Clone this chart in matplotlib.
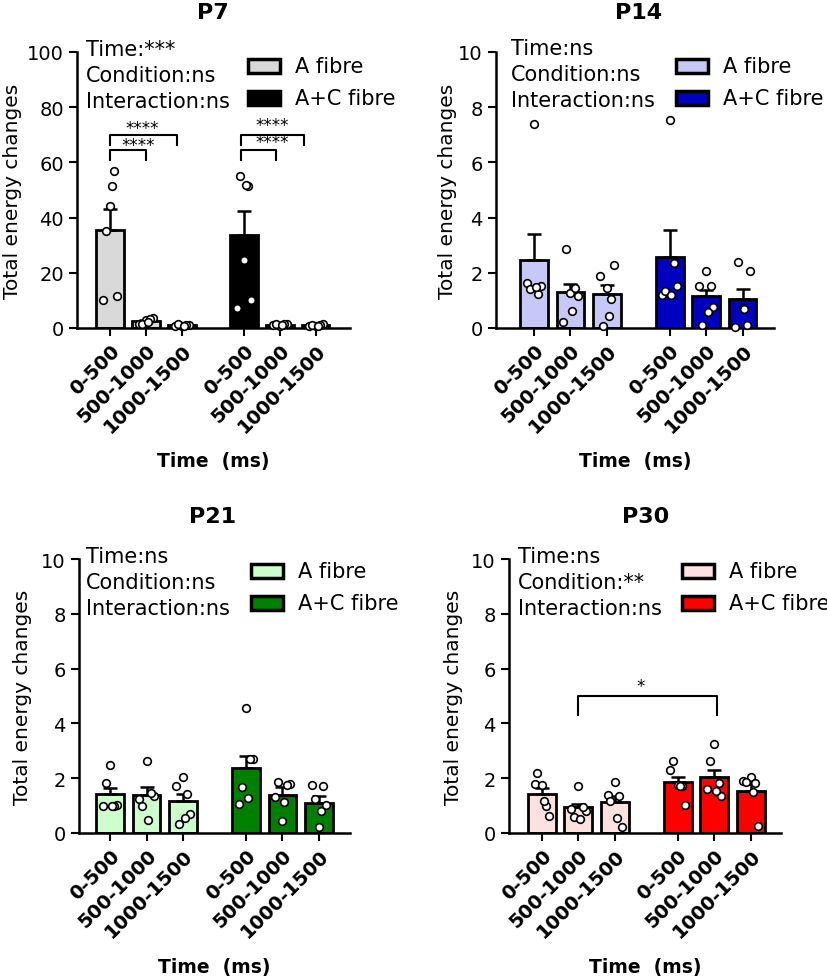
import matplotlib
matplotlib.use('Agg')
import matplotlib.pyplot as plt
from matplotlib.patches import Rectangle

plt.rcParams['font.family'] = 'DejaVu Sans'

W, H = 828, 978

# categories
time_bins = ['0-500', '500-1000', '1000-1500']
groups = ['A fibre', 'A+C fibre']
bar_x = [0, 1, 2, 3.72, 4.72, 5.72]

# P7
p7_a_mean = [35.4, 2.4, 1.0]
p7_a_sem = [7.6, 0.5, 0.2]
p7_ac_mean = [33.8, 1.2, 1.0]
p7_ac_sem = [8.6, 0.25, 0.2]
p7_a_pts = [[10.3, 11.5, 44.2, 35.0, 57.0, 51.3],
            [1.5, 3.5, 2.8, 1.6, 3.2, 2.0],
            [0.8, 1.2, 0.6, 1.3, 1.0, 0.9]]
p7_ac_pts = [[7.4, 10.3, 24.8, 55.0, 51.3, 51.9],
             [1.0, 1.5, 0.8, 1.3, 1.6, 1.2],
             [0.9, 1.3, 0.6, 1.2, 1.0, 0.8]]

# P14
p14_a_mean = [2.45, 1.30, 1.24]
p14_a_sem = [0.96, 0.31, 0.31]
p14_ac_mean = [2.57, 1.15, 1.06]
p14_ac_sem = [0.99, 0.24, 0.34]
p14_a_pts = [[1.63, 1.52, 7.39, 1.43, 1.22, 1.5],
             [0.22, 1.15, 1.28, 2.85, 1.45, 0.6],
             [1.88, 2.27, 1.45, 0.07, 1.06, 0.43]]
p14_ac_pts = [[1.21, 1.52, 7.55, 1.33, 2.35, 1.21],
              [1.52, 0.76, 2.05, 0.12, 1.52, 0.58],
              [0.04, 2.05, 0.72, 2.39, 0.12, 0.68]]

# P21
p21_a_mean = [1.42, 1.40, 1.16]
p21_a_sem = [0.21, 0.27, 0.26]
p21_ac_mean = [2.37, 1.39, 1.09]
p21_ac_sem = [0.45, 0.28, 0.25]
p21_a_pts = [[1.0, 1.02, 2.48, 1.81, 1.0, 1.0],
             [1.24, 1.36, 2.64, 1.0, 1.45, 0.47],
             [1.70, 0.69, 2.03, 0.33, 1.42, 0.54]]
p21_ac_pts = [[1.06, 2.70, 4.56, 1.67, 2.70, 1.28],
              [1.30, 1.79, 0.45, 1.85, 1.75, 1.12],
              [1.75, 1.02, 0.21, 1.24, 1.73, 0.82]]

# P30
p30_a_mean = [1.42, 0.94, 1.14]
p30_a_sem = [0.21, 0.12, 0.22]
p30_ac_mean = [1.85, 2.06, 1.55]
p30_ac_sem = [0.21, 0.24, 0.24]
p30_a_pts = [[1.79, 0.61, 1.76, 2.18, 1.0, 1.18],
             [0.88, 0.79, 1.73, 0.57, 0.94, 0.51],
             [1.39, 0.21, 1.85, 1.18, 1.36, 0.54]]
p30_ac_pts = [[2.30, 1.02, 1.75, 2.64, 1.73, 1.70],
              [1.61, 1.36, 3.25, 2.64, 1.82, 1.55],
              [1.91, 0.24, 2.03, 1.85, 1.82, 1.48]]

panels = [
    dict(title='P7', ymax=100, ystep=20,
         a_mean=p7_a_mean, a_sem=p7_a_sem, ac_mean=p7_ac_mean, ac_sem=p7_ac_sem,
         a_pts=p7_a_pts, ac_pts=p7_ac_pts,
         colors=('#d9d9d9', '#000000'),
         stats=['Time:***', 'Condition:ns', 'Interaction:ns'],
         # (x0, x1, top, leg, label, label_x, label_y)
         brackets=[(0, 1.85, 69.8, 66.2, '****', 0.9, 72.5),
                   (0, 1.0, 64.4, 60.7, '****', 0.78, 66.4),
                   (3.65, 5.4, 70.0, 66.4, '****', 4.5, 73.7),
                   (3.65, 4.6, 64.4, 61.0, '****', 4.5, 67.4)],
         box=(77, 53, 350, 329), xlim=(-0.92, 6.67),
         title_xy=(213, 13), stats_xy=(86, 50), leg_xy=(248, 67),
         ylab_x=-0.2, xlab_y=-0.446),
    dict(title='P14', ymax=10, ystep=2,
         a_mean=p14_a_mean, a_sem=p14_a_sem, ac_mean=p14_ac_mean, ac_sem=p14_ac_sem,
         a_pts=p14_a_pts, ac_pts=p14_ac_pts,
         colors=('#c8c8f8', '#0000c0'),
         stats=['Time:ns', 'Condition:ns', 'Interaction:ns'],
         brackets=[],
         box=(496, 53, 774, 329), xlim=(-1.04, 6.58),
         title_xy=(639, 13), stats_xy=(511, 49), leg_xy=(676, 67),
         ylab_x=-0.14, xlab_y=-0.446),
    dict(title='P21', ymax=10, ystep=2,
         a_mean=p21_a_mean, a_sem=p21_a_sem, ac_mean=p21_ac_mean, ac_sem=p21_ac_sem,
         a_pts=p21_a_pts, ac_pts=p21_ac_pts,
         colors=('#ccffcc', '#008000'),
         stats=['Time:ns', 'Condition:ns', 'Interaction:ns'],
         brackets=[],
         box=(79, 560, 350, 834), xlim=(-0.85, 6.57),
         title_xy=(213, 517), stats_xy=(86, 557), leg_xy=(251, 572),
         ylab_x=-0.175, xlab_y=-0.453),
    dict(title='P30', ymax=10, ystep=2,
         a_mean=p30_a_mean, a_sem=p30_a_sem, ac_mean=p30_ac_mean, ac_sem=p30_ac_sem,
         a_pts=p30_a_pts, ac_pts=p30_ac_pts,
         colors=('#fde0e0', '#ff0000'),
         stats=['Time:ns', 'Condition:**', 'Interaction:ns'],
         brackets=[(1.0, 4.79, 5.0, 4.3, '*', 2.7, 5.38)],
         box=(509, 560, 781, 834), xlim=(-0.90, 6.55),
         title_xy=(646, 517), stats_xy=(518, 557), leg_xy=(682, 572),
         ylab_x=-0.168, xlab_y=-0.453),
]

# horizontal spread of the dots around each bar
jitter = [-0.2, 0.2, 0.0, -0.12, 0.12, 0.05]


def fx(x):
    return x / W


def fy(y):
    return 1 - y / H


fig = plt.figure(figsize=(W / 100, H / 100), dpi=100)

for p in panels:
    l, t, r, b = p['box']
    ax = fig.add_axes([fx(l), fy(b), (r - l) / W, (b - t) / H])

    means = p['a_mean'] + p['ac_mean']
    sems = p['a_sem'] + p['ac_sem']
    pts = p['a_pts'] + p['ac_pts']
    cols = [p['colors'][0]] * 3 + [p['colors'][1]] * 3

    ax.bar(bar_x, means, width=0.76, color=cols, edgecolor='black',
           linewidth=2, zorder=1)
    ax.errorbar(bar_x, means, yerr=[[0] * 6, sems], fmt='none', ecolor='black',
                elinewidth=1.8, capsize=5, capthick=1.8, zorder=2)
    for xi, vals in zip(bar_x, pts):
        xs = [xi + jitter[k] for k in range(len(vals))]
        ax.plot(xs, vals, 'o', ms=5.5, mfc='white', mec='black', mew=1.2,
                zorder=3, clip_on=False)

    for x0, x1, top, leg, lab, lx, ly in p['brackets']:
        ax.plot([x0, x0, x1, x1], [leg, top, top, leg], color='black', lw=1.5,
                clip_on=False)
        ax.text(lx, ly, lab, ha='center', va='center', fontsize=12)

    ax.set_xlim(*p['xlim'])
    ax.set_ylim(0, p['ymax'])
    ax.set_yticks(range(0, p['ymax'] + 1, p['ystep']))
    ax.tick_params(axis='y', labelsize=14, length=6, width=1.5)
    ax.set_xticks(bar_x)
    ax.set_xticklabels(time_bins * 2, rotation=45, ha='right',
                       rotation_mode='anchor', fontsize=14, fontweight='bold')
    ax.tick_params(axis='x', length=6, width=1.5, pad=3)
    for s in ['top', 'right']:
        ax.spines[s].set_visible(False)
    for s in ['left', 'bottom']:
        ax.spines[s].set_linewidth(1.8)

    ax.set_ylabel('Total energy changes', fontsize=14.5)
    ax.yaxis.set_label_coords(p['ylab_x'], 0.5)
    ax.set_xlabel('Time  (ms)', fontsize=13.5, fontweight='bold')
    ax.xaxis.set_label_coords(0.5, p['xlab_y'])

    tx, ty = p['title_xy']
    fig.text(fx(tx), fy(ty), p['title'], ha='center', va='center',
             fontsize=16, fontweight='bold')

    sx, sy = p['stats_xy']
    for k, line in enumerate(p['stats']):
        fig.text(fx(sx), fy(sy + 26 * k), line, ha='left', va='center',
                 fontsize=15)

    gx, gy = p['leg_xy']
    for k, (name, c) in enumerate(zip(groups, p['colors'])):
        yy = gy + 32 * k
        fig.add_artist(Rectangle((fx(gx), fy(yy + 7)), 32 / W, 14 / H,
                                 facecolor=c, edgecolor='black', lw=2.5,
                                 transform=fig.transFigure))
        fig.text(fx(gx + 47), fy(yy), name, ha='left', va='center', fontsize=15)

fig.savefig('out.png', dpi=100)
